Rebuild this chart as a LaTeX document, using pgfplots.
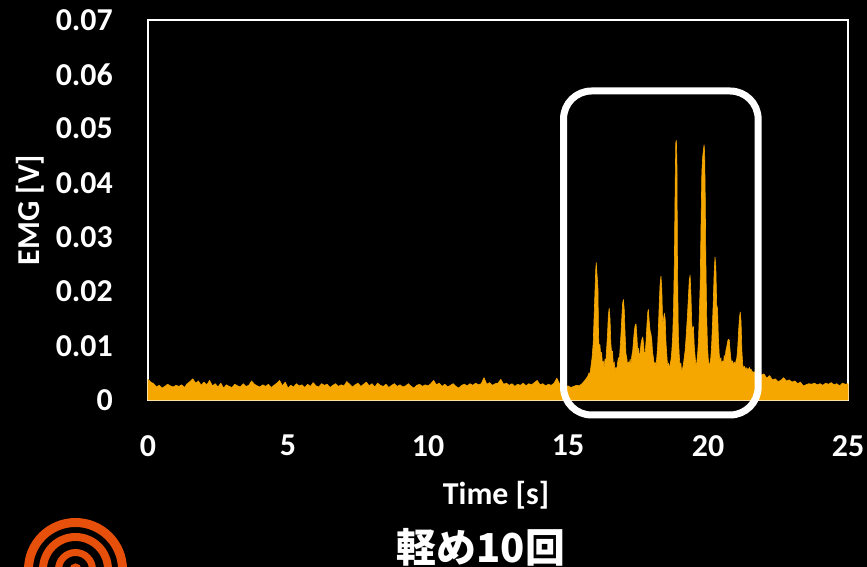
\documentclass[border=0pt]{standalone}
\usepackage{fontspec}
\setmainfont{Carlito}
\newfontfamily\cjk{Noto Sans CJK JP}
\usepackage{pgfplots}
\pgfplotsset{compat=1.18}
\definecolor{emgorange}{RGB}{245,167,0}
\definecolor{logored}{RGB}{230,80,10}
\begin{document}
\begin{tikzpicture}[x=1bp,y=1bp]
\useasboundingbox (0,0) rectangle (867,567);
\fill[black] (0,0) rectangle (867,567);
\begin{axis}[
  at={(148bp,167bp)}, anchor=south west,
  scale only axis, width=700bp, height=380bp,
  xmin=0, xmax=25, ymin=0, ymax=0.07,
  xtick={0,5,10,15,20,25},
  ytick={0,0.01,0.02,0.03,0.04,0.05,0.06,0.07},
  yticklabels={0,0.01,0.02,0.03,0.04,0.05,0.06,0.07},
  scaled y ticks=false,
  major tick length=0pt,
  axis line style={white, line width=1.2bp},
  tick label style={text=white, font=\bfseries\fontsize{32}{38}\selectfont, /pgf/number format/assume math mode=true},
  xticklabel style={anchor=north, inner sep=0pt, yshift=-35bp},
  yticklabel style={anchor=east, inner sep=0pt, xshift=-35bp},
  clip=false,
]
\addplot[draw=emgorange, fill=emgorange, line width=0.6bp, line join=round] coordinates {
(0.0,0.0038)(0.1,0.0033)(0.2,0.0030)(0.3,0.0024)(0.4,0.0027)(0.5,0.0022)(0.6,0.0025)(0.7,0.0029)(0.8,0.0026)(0.9,0.0024)
(1.0,0.0027)(1.1,0.0025)(1.2,0.0028)(1.3,0.0023)(1.4,0.0030)(1.5,0.0034)(1.6,0.0039)(1.7,0.0031)(1.8,0.0035)(1.9,0.0027)
(2.0,0.0033)(2.1,0.0028)(2.2,0.0036)(2.3,0.0026)(2.4,0.0030)(2.5,0.0024)(2.6,0.0031)(2.7,0.0022)(2.8,0.0028)(2.9,0.0025)
(3.0,0.0023)(3.1,0.0029)(3.2,0.0026)(3.3,0.0024)(3.4,0.0030)(3.5,0.0025)(3.6,0.0027)(3.7,0.0035)(3.8,0.0029)(3.9,0.0026)
(4.0,0.0024)(4.1,0.0028)(4.2,0.0025)(4.3,0.0029)(4.4,0.0023)(4.5,0.0027)(4.6,0.0031)(4.7,0.0036)(4.8,0.0026)(4.9,0.0033)
(5.0,0.0022)(5.1,0.0027)(5.2,0.0024)(5.3,0.0030)(5.4,0.0026)(5.5,0.0028)(5.6,0.0023)(5.7,0.0029)(5.8,0.0025)(5.9,0.0032)
(6.0,0.0026)(6.1,0.0024)(6.2,0.0030)(6.3,0.0027)(6.4,0.0029)(6.5,0.0023)(6.6,0.0027)(6.7,0.0030)(6.8,0.0025)(6.9,0.0028)
(7.0,0.0026)(7.1,0.0034)(7.2,0.0029)(7.3,0.0024)(7.4,0.0028)(7.5,0.0031)(7.6,0.0025)(7.7,0.0029)(7.8,0.0033)(7.9,0.0026)
(8.0,0.0030)(8.1,0.0024)(8.2,0.0031)(8.3,0.0027)(8.4,0.0025)(8.5,0.0029)(8.6,0.0023)(8.7,0.0027)(8.8,0.0030)(8.9,0.0025)
(9.0,0.0028)(9.1,0.0024)(9.2,0.0026)(9.3,0.0030)(9.4,0.0025)(9.5,0.0022)(9.6,0.0027)(9.7,0.0029)(9.8,0.0025)(9.9,0.0028)
(10.0,0.0026)(10.1,0.0030)(10.2,0.0036)(10.3,0.0028)(10.4,0.0031)(10.5,0.0025)(10.6,0.0029)(10.7,0.0024)(10.8,0.0027)(10.9,0.0030)
(11.0,0.0025)(11.1,0.0022)(11.2,0.0027)(11.3,0.0029)(11.4,0.0026)(11.5,0.0030)(11.6,0.0027)(11.7,0.0031)(11.8,0.0028)(11.9,0.0030)
(12.0,0.0041)(12.1,0.0029)(12.2,0.0032)(12.3,0.0027)(12.4,0.0030)(12.5,0.0031)(12.6,0.0038)(12.7,0.0029)(12.8,0.0031)(12.9,0.0027)
(13.0,0.0030)(13.1,0.0025)(13.2,0.0029)(13.3,0.0027)(13.4,0.0031)(13.5,0.0026)(13.6,0.0030)(13.7,0.0028)(13.8,0.0032)(13.9,0.0036)
(14.0,0.0028)(14.1,0.0030)(14.2,0.0026)(14.3,0.0029)(14.4,0.0027)(14.5,0.0031)(14.6,0.0040)(14.7,0.0030)(14.8,0.0027)(14.9,0.0024)
(15.0,0.0026)(15.1,0.0023)(15.2,0.0025)(15.3,0.0027)(15.4,0.0026)(15.5,0.0030)(15.6,0.0036)(15.70,0.0043)
(15.75,0.0050)(15.78,0.0046)(15.82,0.0062)(15.86,0.0078)(15.90,0.0105)(15.93,0.0150)(15.96,0.0195)(15.99,0.0240)(16.01,0.0253)
(16.03,0.0235)(16.05,0.0222)(16.07,0.0205)(16.09,0.0120)(16.11,0.0098)(16.14,0.0102)(16.17,0.0080)(16.20,0.0088)(16.23,0.0064)
(16.26,0.0072)(16.29,0.0058)(16.32,0.0075)(16.35,0.0070)(16.38,0.0095)(16.41,0.0120)(16.44,0.0155)(16.47,0.0169)(16.50,0.0150)
(16.53,0.0105)(16.56,0.0085)(16.59,0.0090)(16.62,0.0062)(16.65,0.0070)(16.68,0.0052)(16.71,0.0060)(16.74,0.0055)(16.77,0.0068)
(16.80,0.0078)(16.83,0.0070)(16.86,0.0095)(16.89,0.0120)(16.92,0.0150)(16.95,0.0178)(16.98,0.0185)(17.01,0.0165)(17.04,0.0120)
(17.07,0.0085)(17.10,0.0078)(17.13,0.0062)(17.16,0.0070)(17.19,0.0066)(17.22,0.0075)(17.25,0.0064)(17.28,0.0082)(17.31,0.0090)
(17.34,0.0110)(17.37,0.0128)(17.40,0.0138)(17.43,0.0140)(17.46,0.0118)(17.49,0.0088)(17.52,0.0095)(17.55,0.0075)(17.58,0.0090)
(17.61,0.0105)(17.64,0.0112)(17.67,0.0116)(17.70,0.0102)(17.73,0.0082)(17.76,0.0088)(17.79,0.0110)(17.82,0.0140)(17.85,0.0162)
(17.87,0.0167)(17.90,0.0145)(17.93,0.0128)(17.96,0.0122)(17.99,0.0112)(18.02,0.0088)(18.05,0.0078)(18.08,0.0062)(18.11,0.0070)
(18.14,0.0060)(18.17,0.0078)(18.20,0.0098)(18.23,0.0135)(18.26,0.0180)(18.29,0.0215)(18.32,0.0228)(18.35,0.0205)(18.38,0.0140)
(18.41,0.0148)(18.44,0.0160)(18.47,0.0150)(18.50,0.0105)(18.53,0.0082)(18.56,0.0060)(18.59,0.0068)(18.62,0.0058)(18.65,0.0066)
(18.68,0.0075)(18.71,0.0092)(18.74,0.0120)(18.77,0.0170)(18.80,0.0260)(18.83,0.0410)(18.85,0.0475)(18.87,0.0478)(18.89,0.0440)
(18.91,0.0250)(18.94,0.0120)(18.97,0.0085)(19.00,0.0060)(19.03,0.0068)(19.06,0.0050)(19.09,0.0058)(19.12,0.0065)(19.15,0.0078)
(19.18,0.0090)(19.21,0.0110)(19.24,0.0135)(19.27,0.0160)(19.30,0.0190)(19.33,0.0220)(19.36,0.0230)(19.39,0.0195)(19.42,0.0140)
(19.45,0.0128)(19.48,0.0135)(19.51,0.0098)(19.54,0.0080)(19.57,0.0062)(19.60,0.0070)(19.63,0.0085)(19.66,0.0110)(19.69,0.0160)
(19.72,0.0210)(19.75,0.0320)(19.78,0.0420)(19.81,0.0448)(19.84,0.0462)(19.86,0.0470)(19.88,0.0455)(19.90,0.0380)(19.92,0.0270)
(19.95,0.0160)(19.98,0.0100)(20.01,0.0075)(20.04,0.0062)(20.07,0.0068)(20.10,0.0078)(20.13,0.0102)(20.16,0.0140)(20.19,0.0185)
(20.22,0.0235)(20.25,0.0263)(20.28,0.0245)(20.31,0.0175)(20.34,0.0168)(20.37,0.0115)(20.40,0.0085)(20.43,0.0070)(20.46,0.0078)
(20.49,0.0062)(20.52,0.0072)(20.55,0.0065)(20.58,0.0082)(20.61,0.0076)(20.64,0.0092)(20.67,0.0098)(20.70,0.0108)(20.73,0.0112)
(20.76,0.0110)(20.79,0.0090)(20.82,0.0075)(20.85,0.0068)(20.88,0.0072)(20.91,0.0062)(20.94,0.0070)(20.97,0.0065)(21.00,0.0072)
(21.03,0.0078)(21.06,0.0095)(21.09,0.0125)(21.12,0.0150)(21.15,0.0162)(21.18,0.0145)(21.21,0.0090)(21.24,0.0065)(21.27,0.0058)
(21.30,0.0062)(21.33,0.0055)(21.36,0.0060)(21.39,0.0054)(21.42,0.0058)(21.45,0.0056)(21.48,0.0060)(21.51,0.0055)(21.54,0.0057)
(21.57,0.0050)(21.60,0.0053)(21.63,0.0048)(21.66,0.0052)(21.69,0.0047)(21.72,0.0050)(21.75,0.0049)
(21.8,0.0050)(21.9,0.0046)(22.0,0.0048)(22.1,0.0040)(22.2,0.0045)(22.3,0.0037)(22.4,0.0039)(22.5,0.0034)(22.6,0.0036)(22.7,0.0041)
(22.8,0.0035)(22.9,0.0037)(23.0,0.0033)(23.1,0.0035)(23.2,0.0030)(23.3,0.0033)(23.4,0.0026)(23.5,0.0028)(23.6,0.0030)(23.7,0.0029)
(23.8,0.0031)(23.9,0.0028)(24.0,0.0030)(24.1,0.0027)(24.2,0.0031)(24.3,0.0029)(24.4,0.0032)(24.5,0.0028)(24.6,0.0030)(24.7,0.0026)
(24.8,0.0031)(24.9,0.0029)(25.0,0.0030)
} \closedcycle;
\draw[white, line width=7bp, rounded corners=28bp] (axis cs:14.84,-0.00276) rectangle (axis cs:21.79,0.05692);
\end{axis}
% axis labels
\node[text=white, font=\bfseries\fontsize{32}{38}\selectfont, anchor=base, inner sep=0pt] at (496,62) {Time [s]};
\node[text=white, font=\bfseries\fontsize{32}{38}\selectfont, rotate=90, inner sep=0pt] at (30,357) {EMG [V]};
\node[text=white, font=\cjk\bfseries\fontsize{40}{48}\selectfont, anchor=base, inner sep=0pt] at (481,4) {軽め10回};
% logo
\begin{scope}
\clip (0,0) rectangle (867,567);
\draw[logored, line width=9] (75.5,-2.5) circle (47);
\draw[logored, line width=8] (75.5,-2.5) circle (32.5);
\draw[logored, line width=7] (75.5,-2.5) circle (17);
\draw[logored, line width=3] (75.5,-2.5) circle (4.5);
\end{scope}
\end{tikzpicture}
\end{document}
